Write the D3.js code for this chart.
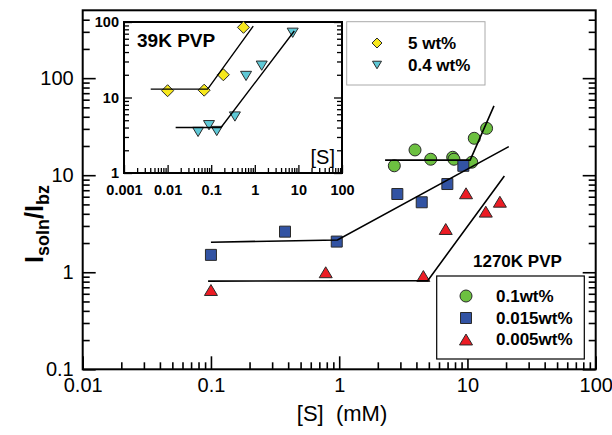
<!DOCTYPE html>
<html><head><meta charset="utf-8">
<script src="https://cdn.jsdelivr.net/npm/d3@7"></script>
<style>
body{margin:0;background:#fff;}
svg{display:block;font-family:"Liberation Sans",Arial,sans-serif;}
</style></head>
<body>
<svg id="chart" width="612" height="435"></svg>
<script>
// ---- main chart data (1270K PVP) ----
const circX = [2.69, 3.90, 5.17, 7.67, 7.85, 10.8, 11.3, 14.1];
const circY = [12.5, 18.2, 14.6, 15.3, 14.6, 13.6, 24.0, 30.4];
const sqX = [0.1, 0.378, 0.957, 2.84, 4.40, 6.97, 9.29];
const sqY = [1.51, 2.62, 2.07, 6.40, 5.26, 8.11, 12.5];
const triX = [0.1, 0.785, 4.53, 6.77, 9.75, 13.9, 17.9];
const triY = [0.656, 1.0, 0.915, 2.79, 6.51, 4.21, 5.33];
const fitGreenX = [2.28, 10.5, 16.1], fitGreenY = [14.3, 14.3, 51.7];
const fitBlueX = [0.1, 0.97, 21], fitBlueY = [2.04, 2.15, 19.7];
const fitRedX = [0.095, 4.9, 19.4], fitRedY = [0.81, 0.82, 9.8];
const legendMain = ["0.1wt%", "0.015wt%", "0.005wt%"];
const xTicks = [0.01, 0.1, 1, 10, 100];
const xTickLabels = ["0.01", "0.1", "1", "10", "100"];
const yTicks = [0.1, 1, 10, 100];
const yTickLabels = ["0.1", "1", "10", "100"];

// ---- inset data (39K PVP) ----
const in5X = [0.01, 0.069, 0.19, 0.55];
const in5Y = [12.3, 12.5, 20, 85];
const in04X = [0.05, 0.089, 0.134, 0.35, 0.63, 1.44, 7.4];
const in04Y = [3.5, 4.3, 3.6, 5.6, 19.3, 26.4, 72];
const fit5X = [0.0041, 0.083, 0.92], fit5Y = [12.9, 12.9, 88];
const fit04X = [0.0153, 0.168, 8.05], fit04Y = [4.0, 4.0, 76];
const legendInset = ["5 wt%", "0.4 wt%"];
const inXTicks = [0.001, 0.01, 0.1, 1, 10, 100];
const inXTickLabels = ["0.001", "0.01", "0.1", "1", "10", "100"];
const inYTicks = [1, 10, 100];
const inYTickLabels = ["1", "10", "100"];

const C = {green:"#6cc040", blue:"#3253a3", red:"#ec1c24", yellow:"#f7e81c", cyan:"#5ec8d6", edge:"#2a2a2a"};

const svg = d3.select("#chart");
const x = d3.scaleLog().domain([0.01, 100]).range([82.7, 595.7]);
const y = d3.scaleLog().domain([0.1, 500]).range([369.3, 10.3]);
const xi = d3.scaleLog().domain([0.001, 100]).range([124, 342]);
const yi = d3.scaleLog().domain([1, 100]).range([173, 22]);

function minors(lo, hi, extra){
  const out = [];
  for (let d = lo; d < hi * 0.999; d *= 10) for (let k = 2; k <= 9; k++) out.push(d * k);
  return out.concat(extra || []);
}

// shape paths centered at (0,0)
const shapes = {
  circle: s => { const r = s/2; return `M${r},0A${r},${r} 0 1,1 ${-r},0A${r},${r} 0 1,1 ${r},0Z`; },
  square: s => { const h = s/2; return `M${-h},${-h}H${h}V${h}H${-h}Z`; },
  triUp: s => { const h = s/2, v = s*0.42; return `M0,${-v}L${h},${v}L${-h},${v}Z`; },
  triDown: s => { const h = s/2, v = s*0.42; return `M0,${v}L${h},${-v}L${-h},${-v}Z`; },
  diamond: s => { const h = s/2; return `M0,${-h}L${h},0L0,${h}L${-h},0Z`; }
};

function axisSet(g, sx, sy, major, minor, majorLen, minorLen, labelsX, labelsY, opts){
  const [x0, x1] = sx.range(), [y0, y1] = sy.range();
  const b = g.append("g").attr("transform", `translate(0,${y0})`);
  b.call(d3.axisBottom(sx).tickValues(minor.x).tickSize(-minorLen).tickFormat(""));
  b.append("g").call(d3.axisBottom(sx).tickValues(major.x).tickSize(-majorLen).tickPadding(opts.xPad)
      .tickFormat((d,i) => labelsX[i]));
  const l = g.append("g").attr("transform", `translate(${x0},0)`);
  l.call(d3.axisLeft(sy).tickValues(minor.y).tickSize(-minorLen).tickFormat(""));
  l.append("g").call(d3.axisLeft(sy).tickValues(major.y).tickSize(-majorLen).tickPadding(opts.yPad)
      .tickFormat((d,i) => labelsY[i]));
  const r = g.append("g").attr("transform", `translate(${x1},0)`);
  r.call(d3.axisRight(sy).tickValues(minor.y).tickSize(-minorLen).tickFormat(""));
  r.append("g").call(d3.axisRight(sy).tickValues(major.y).tickSize(-majorLen).tickFormat(""));
  g.selectAll(".domain").remove();
  g.selectAll(".tick line").attr("stroke", "#000").attr("stroke-width", opts.tickW);
  g.selectAll("text").attr("font-family", "Liberation Sans, Arial, sans-serif")
    .attr("font-size", opts.font).attr("font-weight", opts.weight).attr("fill", "#000");
  g.append("rect").attr("x", x0).attr("y", y1).attr("width", x1 - x0).attr("height", y0 - y1)
    .attr("fill", "none").attr("stroke", "#000").attr("stroke-width", 2);
}

// ---------- main axes ----------
const gMain = svg.append("g");
axisSet(gMain, x, y,
  {x: xTicks, y: yTicks},
  {x: minors(0.01, 100), y: minors(0.1, 100, [200, 300, 400])},
  13, 7, xTickLabels, yTickLabels,
  {xPad: 9, yPad: 9, font: 20, weight: "normal", tickW: 1.6});

const line = (sx, sy) => d3.line().x(d => sx(d[0])).y(d => sy(d[1]));
const mline = line(x, y);

function drawPts(g, xs, ys, sx, sy, shape, size, fill){
  g.selectAll(null).data(xs.map((v,i) => [v, ys[i]])).join("path")
    .attr("d", shapes[shape](size))
    .attr("transform", d => `translate(${sx(d[0])},${sy(d[1])})`)
    .attr("fill", fill).attr("stroke", C.edge).attr("stroke-width", 1);
}
const gData = svg.append("g");
drawPts(gData, circX, circY, x, y, "circle", 12, C.green);
drawPts(gData, sqX, sqY, x, y, "square", 11, C.blue);
drawPts(gData, triX, triY, x, y, "triUp", 13, C.red);

[[fitGreenX, fitGreenY], [fitBlueX, fitBlueY], [fitRedX, fitRedY]].forEach(([fx, fy]) => {
  gData.append("path").datum(fx.map((v,i) => [v, fy[i]])).attr("d", mline)
    .attr("fill", "none").attr("stroke", "#000").attr("stroke-width", 1.6);
});

// main axis titles
svg.append("text").attr("x", 342).attr("y", 421).attr("text-anchor", "middle")
  .attr("font-size", 22).style("white-space", "pre").text("[S]  (mM)");
const yt = svg.append("text").attr("transform", "translate(43,224) rotate(-90)")
  .attr("text-anchor", "middle").attr("font-weight", "bold").attr("font-size", 25);
yt.append("tspan").text("I");
yt.append("tspan").attr("font-size", 18).attr("dy", 6).text("soln");
yt.append("tspan").attr("dy", -6).text("/I");
yt.append("tspan").attr("font-size", 18).attr("dy", 6).text("bz");

svg.append("text").attr("x", 473).attr("y", 267).attr("font-size", 17).attr("font-weight", "bold")
  .text("1270K PVP");

// main legend
const lg = svg.append("g");
lg.append("rect").attr("x", 436.7).attr("y", 276).attr("width", 147.6).attr("height", 83)
  .attr("fill", "#fff").attr("stroke", "#000").attr("stroke-width", 1.2);
const legShapes = [["circle", 12, C.green], ["square", 11, C.blue], ["triUp", 13, C.red]];
const legY = [296, 318, 339.5];
legendMain.forEach((t, i) => {
  lg.append("path").attr("d", shapes[legShapes[i][0]](legShapes[i][1]))
    .attr("transform", `translate(466,${legY[i]})`).attr("fill", legShapes[i][2])
    .attr("stroke", C.edge).attr("stroke-width", 1);
  lg.append("text").attr("x", 496).attr("y", legY[i]).attr("dy", "0.35em")
    .attr("font-size", 17).attr("font-weight", "bold").text(t);
});

// ---------- inset ----------
const gIn = svg.append("g");
gIn.append("rect").attr("x", 124).attr("y", 22).attr("width", 218).attr("height", 151).attr("fill", "#fff");
axisSet(gIn, xi, yi,
  {x: inXTicks, y: inYTicks},
  {x: minors(0.001, 100), y: minors(1, 100)},
  8, 5, inXTickLabels, inYTickLabels,
  {xPad: 12, yPad: 5, font: 14.5, weight: "bold", tickW: 1.3});

const iline = line(xi, yi);
drawPts(gIn, in5X, in5Y, xi, yi, "diamond", 12, C.yellow);
drawPts(gIn, in04X, in04Y, xi, yi, "triDown", 11, C.cyan);
[[fit5X, fit5Y], [fit04X, fit04Y]].forEach(([fx, fy]) => {
  gIn.append("path").datum(fx.map((v,i) => [v, fy[i]])).attr("d", iline)
    .attr("fill", "none").attr("stroke", "#000").attr("stroke-width", 1.4);
});
gIn.append("text").attr("x", 137).attr("y", 47).attr("font-size", 19).attr("font-weight", "bold").text("39K PVP");
gIn.append("text").attr("x", 335).attr("y", 164).attr("text-anchor", "end").attr("font-size", 20).text("[S]");

// inset legend
const il = svg.append("g");
il.append("rect").attr("x", 346.7).attr("y", 21.7).attr("width", 138.3).attr("height", 63.3)
  .attr("fill", "#fff").attr("stroke", "#aaa").attr("stroke-width", 1);
const inLegShapes = [["diamond", 10, C.yellow], ["triDown", 9, C.cyan]];
const inLegY = [43, 65];
legendInset.forEach((t, i) => {
  il.append("path").attr("d", shapes[inLegShapes[i][0]](inLegShapes[i][1]))
    .attr("transform", `translate(377,${inLegY[i]})`).attr("fill", inLegShapes[i][2])
    .attr("stroke", C.edge).attr("stroke-width", 1);
  il.append("text").attr("x", 408).attr("y", inLegY[i]).attr("dy", "0.35em")
    .attr("font-size", 17).attr("font-weight", "bold").text(t);
});
</script>
</body></html>
